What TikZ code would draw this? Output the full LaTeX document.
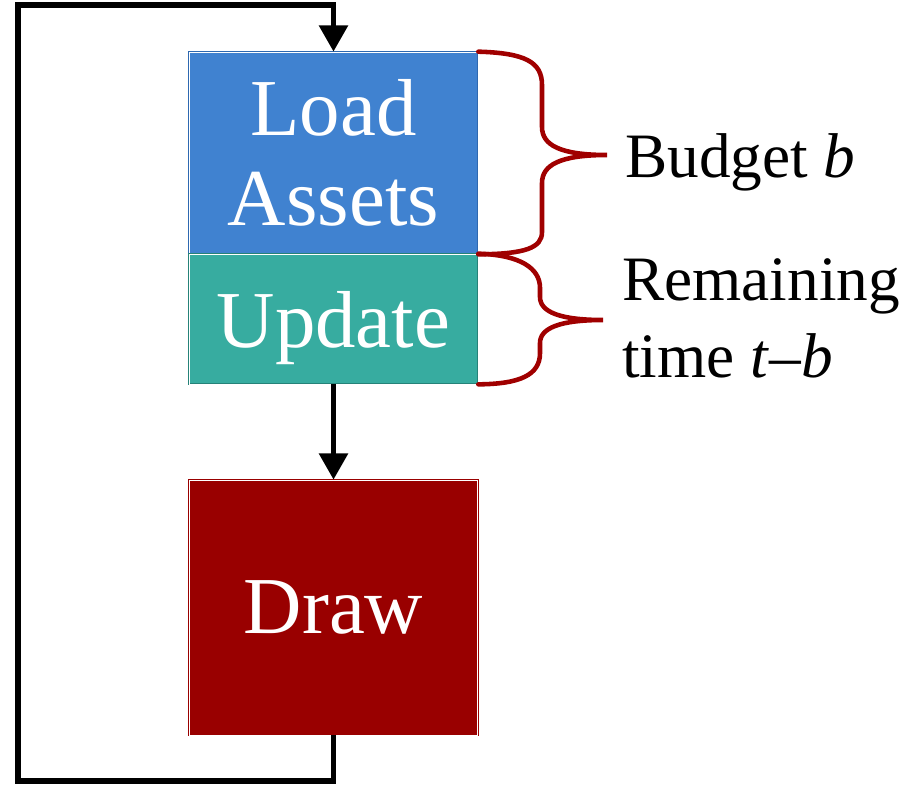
\documentclass[tikz,border=0pt]{standalone}
\usepackage{fontspec}
\setmainfont{Liberation Serif}
\usepackage{tikz}
\usetikzlibrary{positioning,arrows.meta}

\definecolor{loadblue}{RGB}{64,130,208}
\definecolor{loadedge}{RGB}{46,104,176}
\definecolor{updteal}{RGB}{55,172,160}
\definecolor{updedge}{RGB}{38,130,120}
\definecolor{drawred}{RGB}{153,0,0}
\definecolor{bracered}{RGB}{160,0,0}

\tikzset{
  stage/.style={rectangle, inner sep=0pt, text=white, align=center,
    double=white, double distance=0.5pt, line width=0.4pt,
    minimum width=5.78cm, font=\fontsize{46}{51}\selectfont},
  flow/.style={line width=3.2pt, -{Triangle[width=16pt,length=15pt]}},
  brace/.style={bracered, line width=2.6pt, line cap=round},
  note/.style={anchor=base west, inner sep=0pt, font=\fontsize{36}{43}\selectfont}
}

\begin{document}
\begin{tikzpicture}[x=0.02cm,y=-0.02cm]
		\useasboundingbox (0,0) rectangle (908,784);

		% Stages of one frame
		\node[stage, fill=loadblue, draw=loadedge, minimum height=4.04cm] (load) at (333.5,153) {Load\\Assets};
		\node[stage, fill=updteal, draw=updedge, minimum height=2.6cm, text depth=0pt] (upd) at (333.5,319) {Update};
		\node[stage, fill=drawred, draw=drawred, minimum width=5.76cm, minimum height=5.1cm] (drw) at (333.5,607.5) {Draw};

		% Corners of the loop
		\coordinate (loopbl) at (18,781);
		\coordinate (looptl) at (18,5);

		% Arrows
		\draw[flow] (upd.south) -- (drw.north);
		\draw[flow] (drw.south) |- (loopbl) -- (looptl) -| (load.north);

		% Braces
		\draw[brace] (load.north east)
			.. controls (525,53) and (542,62) .. (542,85)
			-- (542,127)
			.. controls (542,145) and (560,155) .. (607,155)
			.. controls (560,155) and (542,165) .. (542,183)
			-- (542,232)
			.. controls (542,248) and (525,254) .. (load.south east);
		\draw[brace] (upd.north east)
			.. controls (520,255) and (540,268) .. (540,288)
			-- (540,297)
			.. controls (540,312) and (560,320) .. (603,320)
			.. controls (560,320) and (540,328) .. (540,343)
			-- (540,353)
			.. controls (540,375) and (520,384) .. (upd.south east);

		% Labels
		\node[note] (budget) at (625,177) {Budget \textit{b}};
		\node[note] (remain) at (622,300) {Remaining};
		\node[note] (remtime) at (622,377) {time \textit{t}--\textit{b}};
	\end{tikzpicture}
\end{document}
